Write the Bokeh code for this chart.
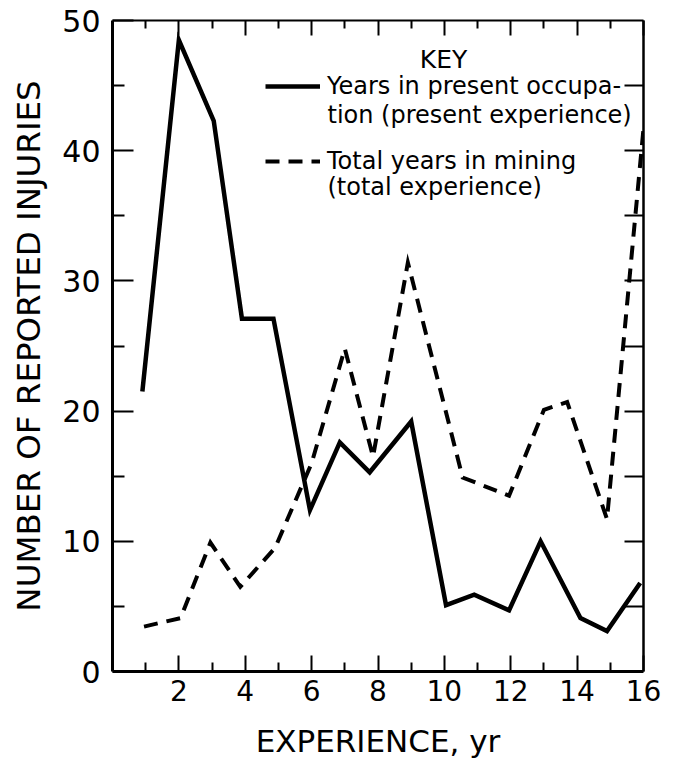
from bokeh.plotting import figure
from bokeh.models import (Range1d, LinearAxis, FixedTicker, Legend, LegendItem,
                          Label, ColumnDataSource)
from bokeh.embed import file_html
from bokeh.resources import INLINE

# ---- data ----
PRESENT_X = [0.9, 2.0, 3.05, 3.9, 4.85, 5.95, 6.85, 7.75, 9.0, 10.05, 10.9, 11.95, 12.9, 14.1, 14.9, 15.9]
PRESENT_Y = [21.5, 48.5, 42.3, 27.1, 27.1, 12.4, 17.6, 15.3, 19.2, 5.1, 5.9, 4.7, 10.0, 4.1, 3.1, 6.8]
TOTAL_X = [0.95, 2.05, 2.95, 3.85, 4.9, 6.0, 7.0, 7.85, 8.9, 10.55, 11.95, 13.0, 13.7, 14.9, 16.0]
TOTAL_Y = [3.45, 4.1, 9.9, 6.5, 9.5, 16.0, 24.8, 16.5, 31.4, 14.9, 13.5, 20.1, 20.7, 11.7, 41.7]

X_TICKS = [2, 4, 6, 8, 10, 12, 14, 16]
X_MINOR = [1, 3, 5, 7, 9, 11, 13, 15]
Y_TICKS = [0, 10, 20, 30, 40, 50]
Y_MINOR = [5, 15, 25, 35, 45]
R_TICKS = [5, 10, 15, 20, 25, 30, 35, 40, 45]

X_TITLE = "EXPERIENCE, yr"
Y_TITLE = "NUMBER OF REPORTED INJURIES"
KEY_TITLE = "KEY"
SERIES_1 = ["Years in present occupa-", "tion (present experience)"]
SERIES_2 = ["Total years in mining", "(total experience)"]

FONT = "DejaVu Sans"

p = figure(width=668, height=761, x_range=Range1d(0, 16), y_range=Range1d(0, 50),
           x_axis_type=None, y_axis_type=None,
           output_backend="svg", toolbar_location=None,
           min_border_left=112, min_border_right=25, min_border_top=20, min_border_bottom=89)
p.outline_line_color = None
p.background_fill_color = "white"
p.border_fill_color = "white"

# left axis
ya = LinearAxis(ticker=FixedTicker(ticks=Y_TICKS, minor_ticks=Y_MINOR), axis_label=Y_TITLE)
ya.axis_line_width = 3
ya.major_tick_in = 21
ya.major_tick_out = 0
ya.minor_tick_in = 12
ya.minor_tick_out = 0
ya.major_tick_line_width = 2
ya.minor_tick_line_width = 2
ya.major_label_text_font = FONT
ya.major_label_text_font_size = "30px"
ya.major_label_text_color = "black"
ya.major_label_standoff = 12
ya.axis_label_text_font = FONT
ya.axis_label_text_font_size = "32.5px"
ya.axis_label_text_font_style = "normal"
ya.axis_label_text_color = "black"
ya.axis_label_standoff = 11
p.add_layout(ya, "left")

# bottom axis
xa = LinearAxis(ticker=FixedTicker(ticks=X_TICKS, minor_ticks=X_MINOR), axis_label=X_TITLE)
xa.axis_line_width = 3
xa.major_tick_in = 16
xa.major_tick_out = 0
xa.minor_tick_in = 9
xa.minor_tick_out = 0
xa.major_tick_line_width = 2
xa.minor_tick_line_width = 2
xa.major_label_text_font = FONT
xa.major_label_text_font_size = "28px"
xa.major_label_text_color = "black"
xa.major_label_standoff = 8
xa.axis_label_text_font = FONT
xa.axis_label_text_font_size = "31px"
xa.axis_label_text_font_style = "normal"
xa.axis_label_text_color = "black"
xa.axis_label_standoff = 19
p.add_layout(xa, "below")

# top axis (ticks only)
ta = LinearAxis(ticker=FixedTicker(ticks=X_TICKS, minor_ticks=X_MINOR))
ta.axis_line_width = 2
ta.major_tick_in = 15
ta.major_tick_out = 0
ta.minor_tick_in = 8
ta.minor_tick_out = 0
ta.major_tick_line_width = 2
ta.minor_tick_line_width = 2
ta.major_label_overrides = {t: "" for t in X_TICKS}
ta.major_label_text_font_size = "0px"
ta.major_label_standoff = 0
p.add_layout(ta, "above")

# right axis (ticks only)
ra = LinearAxis(ticker=FixedTicker(ticks=R_TICKS, minor_ticks=[]))
ra.axis_line_width = 2.5
ra.major_tick_in = 19
ra.major_tick_out = 0
ra.major_tick_line_width = 2
ra.major_label_overrides = {t: "" for t in R_TICKS}
ra.major_label_text_font_size = "0px"
ra.major_label_standoff = 0
p.add_layout(ra, "right")

src_p = ColumnDataSource(dict(x=PRESENT_X, y=PRESENT_Y))
src_t = ColumnDataSource(dict(x=TOTAL_X, y=TOTAL_Y))

r_total = p.line("x", "y", source=src_t, line_color="black", line_width=4,
                 line_dash="14 9", line_join="miter")
r_present = p.line("x", "y", source=src_p, line_color="black", line_width=4.5,
                   line_join="miter")

legend = Legend(items=[LegendItem(label=SERIES_1[0], renderers=[r_present]),
                       LegendItem(label=SERIES_2[0], renderers=[r_total])],
                location=(153, 496), orientation="vertical",
                padding=0, margin=0, spacing=47,
                glyph_width=55, glyph_height=26, label_height=26,
                label_standoff=7,
                label_text_font=FONT, label_text_font_size="24px",
                label_text_color="black",
                border_line_color=None, background_fill_alpha=0)
p.add_layout(legend)

for txt, xx, yy, align, fs in [(KEY_TITLE, 331, 612, "center", "25px"),
                               (SERIES_1[1], 215, 557, "left", "24px"),
                               (SERIES_2[1], 215, 485, "left", "24px")]:
    p.add_layout(Label(x=xx, y=yy, x_units="screen", y_units="screen", text=txt,
                       text_font=FONT, text_font_size=fs, text_color="black",
                       text_align=align, text_baseline="alphabetic"))

open("out.html", "w").write(file_html(p, INLINE))
